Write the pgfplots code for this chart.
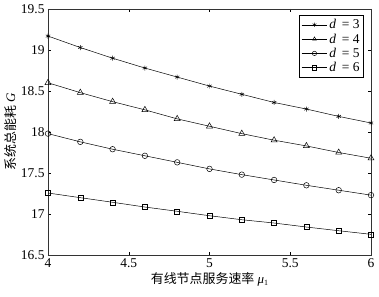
\documentclass[border=0pt]{standalone}
\usepackage{pgfplots}
\pgfplotsset{compat=1.18}
\usepackage{fontspec}
\setmainfont{Liberation Serif}
\newfontfamily\cjk{Noto Sans CJK SC}
\begin{document}
\begin{tikzpicture}
\begin{axis}[
  scale only axis, width=323bp, height=246bp,
  xmin=4, xmax=6, ymin=16.5, ymax=19.5,
  xtick={4,4.5,5,5.5,6}, ytick={16.5,17,17.5,18,18.5,19,19.5},
  /pgf/number format/assume math mode=true,
  xticklabels={4,4.5,5,5.5,6},
  yticklabels={16.5,17,17.5,18,18.5,19,19.5},
  tick align=inside, major tick length=3bp,
  tick style={black, line width=0.4pt},
  axis line style={black!80, line width=0.5pt},
  every tick label/.append style={font=\fontsize{13.5}{15}\selectfont},
  xlabel={{\cjk 有线节点服务速率} \textit{μ}\raisebox{-2bp}{\fontsize{8}{9}\selectfont 1}},
  ylabel={{\cjk 系统总能耗} \textit{G}},
  xlabel style={font=\fontsize{13}{15}\selectfont, yshift=2bp},
  ylabel style={font=\fontsize{13}{15}\selectfont, yshift=-2bp},
  legend style={font=\fontsize{13.5}{15}\selectfont, draw=black, line width=0.5pt, inner sep=2bp, row sep=-0.5bp, at={(0.978,0.975)}, anchor=north east},
  legend image code/.code={\draw[mark repeat=2,mark phase=2,mark size=2.2pt] plot coordinates {(0cm,0cm)(0.45cm,0cm)(0.9cm,0cm)};},
  legend cell align=left,
  every axis plot/.append style={black, line width=0.5pt},
]
\addplot[mark=asterisk, mark size=2.5pt] coordinates {(4,19.17)(4.2,19.03)(4.4,18.90)(4.6,18.78)(4.8,18.67)(5,18.56)(5.2,18.46)(5.4,18.36)(5.6,18.28)(5.8,18.19)(6,18.11)};
\addlegendentry{\textit{d} $\,$= 3}
\addplot[mark=triangle, mark size=3.5pt] coordinates {(4,18.60)(4.2,18.48)(4.4,18.37)(4.6,18.27)(4.8,18.16)(5,18.07)(5.2,17.98)(5.4,17.90)(5.6,17.83)(5.8,17.75)(6,17.68)};
\addlegendentry{\textit{d} $\,$= 4}
\addplot[mark=o, mark size=2.8pt] coordinates {(4,17.98)(4.2,17.88)(4.4,17.79)(4.6,17.71)(4.8,17.63)(5,17.55)(5.2,17.48)(5.4,17.415)(5.6,17.35)(5.8,17.29)(6,17.23)};
\addlegendentry{\textit{d} $\,$= 5}
\addplot[mark=square, mark size=2.5pt] coordinates {(4,17.256)(4.2,17.199)(4.4,17.143)(4.6,17.085)(4.8,17.033)(5,16.979)(5.2,16.93)(5.4,16.89)(5.6,16.841)(5.8,16.796)(6,16.752)};
\addlegendentry{\textit{d} $\,$= 6}
\end{axis}
\useasboundingbox ([shift={(-48bp,-42bp)}]current axis.south west) rectangle ([shift={(8bp,9bp)}]current axis.north east);
\end{tikzpicture}
\end{document}
